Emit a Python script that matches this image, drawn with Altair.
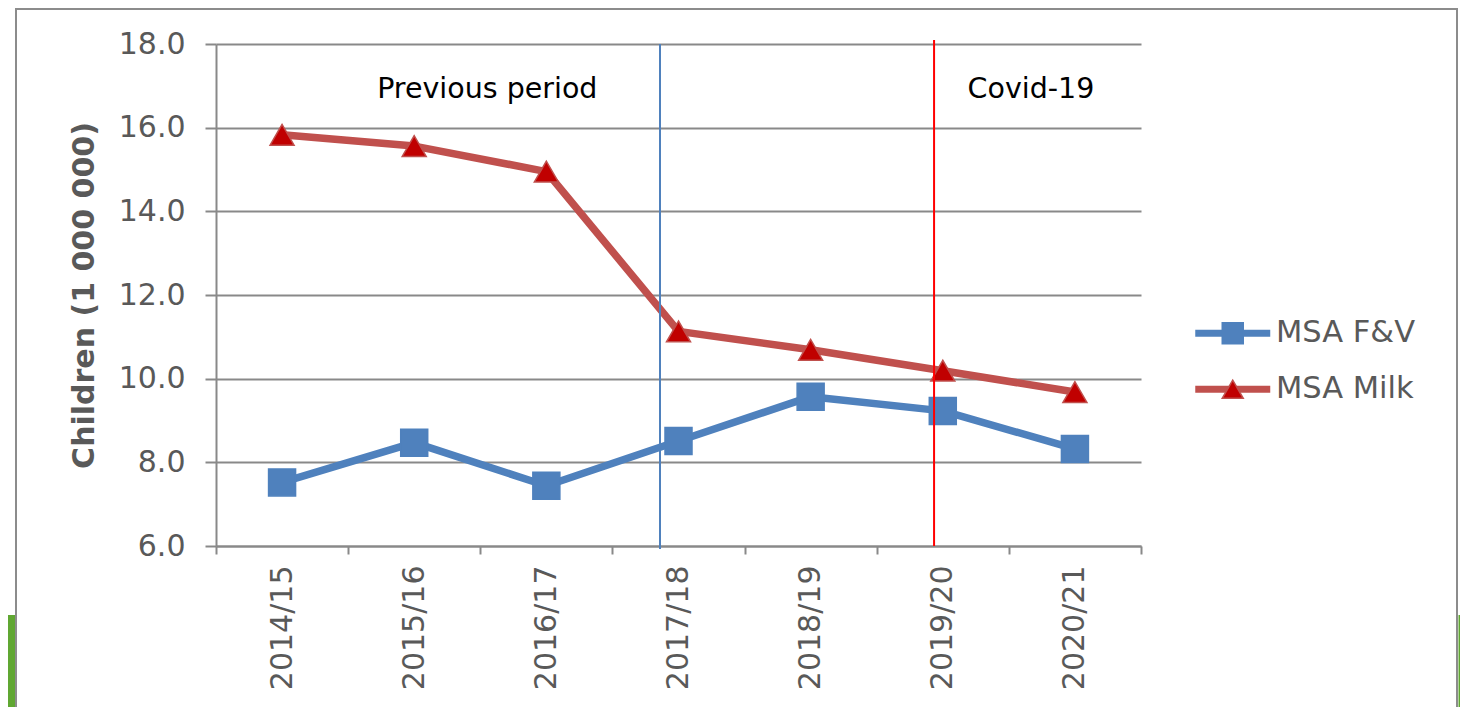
import altair as alt
import pandas as pd

# ---- data ----
years = ["2014/15", "2015/16", "2016/17", "2017/18", "2018/19", "2019/20", "2020/21"]
fv_values = [7.52, 8.47, 7.44, 8.51, 9.57, 9.23, 8.32]
milk_values = [15.83, 15.56, 14.95, 11.13, 10.69, 10.19, 9.68]
series_names = ["MSA F&V", "MSA Milk"]
y_ticks = [6, 8, 10, 12, 14, 16, 18]
y_title = "Children (1 000 000)"
annotation_labels = ["Previous period", "Covid-19"]
annotation_years = ["2016/17", "2020/21"]
annotation_level = 16.72
divider_years = ["2017/18", "2019/20"]

df = pd.DataFrame({
    "year": years + years,
    "value": fv_values + milk_values,
    "series": [series_names[0]] * len(years) + [series_names[1]] * len(years),
})

FONT = "DejaVu Sans"
BLUE = "#4F81BD"
RED = "#C0504D"
DARKRED = "#C00000"
GRID = "#898989"
TXT = "#595959"
GREEN = "#60A732"

W, H = 925, 502

x_scale = alt.Scale(type="band", domain=years, paddingInner=0, paddingOuter=0)
y_scale = alt.Scale(domain=[6, 18], nice=False, zero=False)
y_axis = alt.Axis(values=y_ticks, format=".1f", title=y_title, titleFont=FONT,
                  titleFontSize=30, titleFontWeight="bold", titleColor=TXT,
                  titleX=-122.5, titleY=251, titleAlign="center",
                  titleBaseline="alphabetic")


def xe(bp=None):
    if bp is None:
        return alt.X("year:N", scale=x_scale, title=None)
    return alt.X("year:N", scale=x_scale, title=None, bandPosition=bp)


def ye():
    return alt.Y("value:Q", scale=y_scale, axis=y_axis)


legend_common = dict(orient="none", legendX=1001.5, legendY=274, symbolSize=441,
                     labelOffset=28, rowPadding=25, labelFont=FONT, labelFontSize=30.5,
                     labelColor=TXT, padding=0, title=None)
legend_line = alt.Legend(symbolType="M-3.571,0H3.571", symbolStrokeWidth=7, **legend_common)
legend_marker = alt.Legend(symbolStrokeWidth=1.5, labelOpacity=0, **legend_common)

base = alt.Chart(df)

one = pd.DataFrame({"k": [0]})
frame = alt.Chart(one).mark_rect(fill="transparent", stroke="#8C8C8C", strokeWidth=2).encode(
    x=alt.value(-200), x2=alt.value(1241), y=alt.value(-35), y2=alt.value(700))
green_left = alt.Chart(one).mark_rect(fill=GREEN).encode(
    x=alt.value(-210), x2=alt.value(-201), y=alt.value(571), y2=alt.value(670))
green_right = alt.Chart(one).mark_rect(fill=GREEN).encode(
    x=alt.value(1242.5), x2=alt.value(1260), y=alt.value(571), y2=alt.value(670))

line = base.mark_line(strokeWidth=7.5, strokeJoin="round", strokeCap="round").encode(
    x=xe(), y=ye(),
    color=alt.Color("series:N", scale=alt.Scale(domain=series_names, range=[BLUE, RED]),
                    legend=legend_line),
)

fill_scale = alt.Scale(range=[BLUE, DARKRED])
stroke_scale = alt.Scale(range=[BLUE, RED])
shape_scale = alt.Scale(range=["square", "triangle-up"])


def markers(name, size):
    return base.transform_filter(alt.datum.series == name).mark_point(
        filled=True, size=size, strokeWidth=1.5, opacity=1).encode(
        x=xe(), y=ye(),
        fill=alt.Fill("series:N", scale=fill_scale, legend=legend_marker),
        stroke=alt.Stroke("series:N", scale=stroke_scale, legend=legend_marker),
        shape=alt.Shape("series:N", scale=shape_scale, legend=legend_marker),
    )


pts_fv = markers(series_names[0], 729)
pts_milk = markers(series_names[1], 576)

rule_blue = alt.Chart(pd.DataFrame({"year": [divider_years[0]]})).mark_rule(
    color=BLUE, strokeWidth=2).encode(x=xe(0.36), y=alt.value(0), y2=alt.value(505))
rule_red = alt.Chart(pd.DataFrame({"year": [divider_years[1]]})).mark_rule(
    color="#FF0000", strokeWidth=2).encode(x=xe(0.434), y=alt.value(-4), y2=alt.value(502))


def note(i, bp):
    d = pd.DataFrame({"year": [annotation_years[i]], "value": [annotation_level],
                      "label": [annotation_labels[i]]})
    return alt.Chart(d).mark_text(font=FONT, fontSize=28.5, color="#000000", align="center",
                                  baseline="alphabetic").encode(
        x=xe(bp), y=ye(), text="label:N")


text_prev = note(0, 0.053)
text_covid = note(1, 0.167)

chart = alt.layer(
    frame, green_left, green_right, line, pts_fv, pts_milk, rule_blue, rule_red,
    text_prev, text_covid
).properties(
    width=W, height=H,
    autosize=alt.AutoSizeParams(type="none"),
    padding={"left": 208, "top": 36, "right": 319, "bottom": 161},
    background="white",
).configure_view(stroke=None).configure_axis(
    domainColor=GRID, domainWidth=2, tickColor=GRID, tickWidth=2,
    gridColor=GRID, gridWidth=2, labelFont=FONT, labelFontSize=30, labelColor=TXT,
).configure_axisX(
    grid=False, tickSize=8, labelAngle=-90, labelPadding=11, tickBand="extent",
).configure_axisY(
    grid=True, tickSize=11, labelPadding=20,
)

chart.save("out.html", embed_options={"renderer": "svg", "actions": False})
